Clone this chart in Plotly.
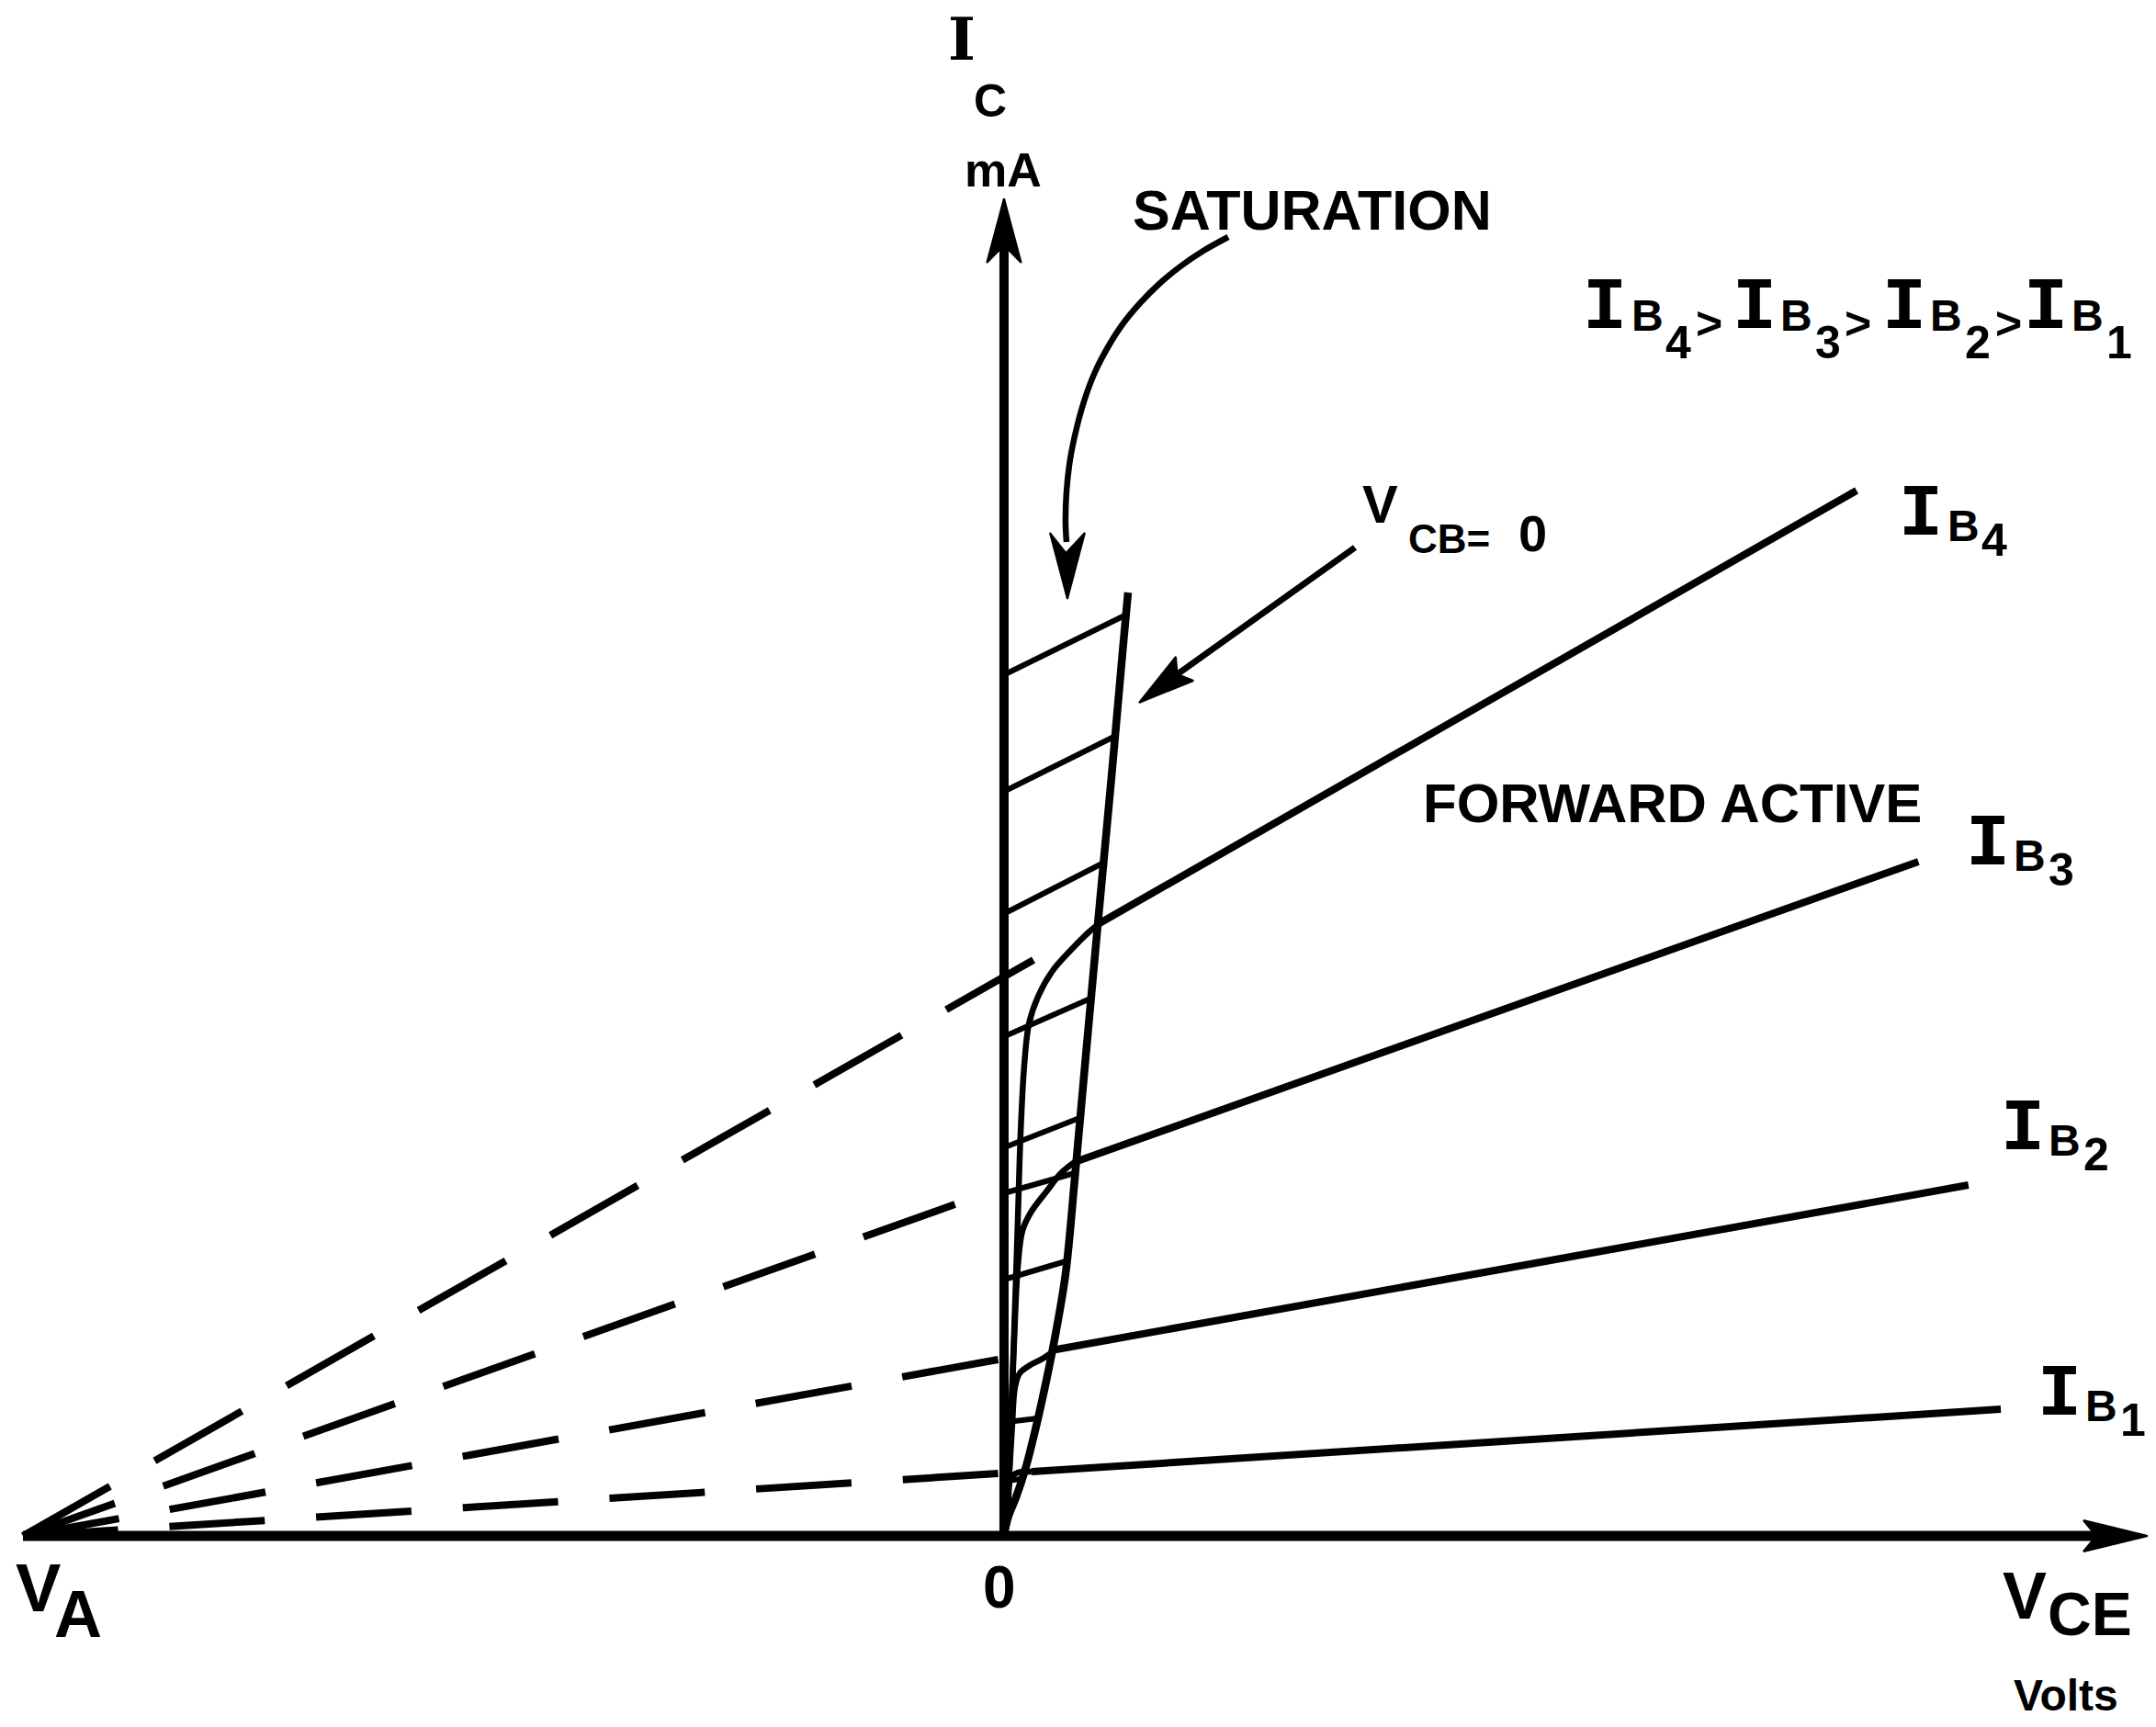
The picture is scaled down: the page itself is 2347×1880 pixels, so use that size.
import math
import plotly.graph_objects as go

FIG_W, FIG_H = 2347, 1880
X_RANGE = [-102.34, 117.42]   # V_CE (volts)
Y_RANGE = [-2.08, 16.72]      # I_C (mA)
PX_PER_V = FIG_W / (X_RANGE[1] - X_RANGE[0])
PX_PER_MA = FIG_H / (Y_RANGE[1] - Y_RANGE[0])

V_A = -100.0  # Early voltage, where all extrapolated lines meet

# ---- base-current curves, largest first ----
ib_index = ["4", "3", "2", "1"]
active_end_v = [86.9, 93.2, 98.3, 101.6]
active_end_i = [11.38, 7.34, 3.82, 1.38]
dash_start_v = [3.0, -5.0, -0.6, -0.6]
dash_start_i = [6.27, 3.61, 1.92, 0.68]

knee_v = [
    [0.0, 0.28, 0.66, 1.03, 1.40, 1.69, 2.06, 2.53, 3.46, 4.87, 6.74, 8.61, 9.74],
    [0.0, 0.19, 0.66, 1.03, 1.40, 1.87, 2.72, 4.40, 5.81, 7.21],
    [0.0, 0.19, 0.56, 0.84, 1.12, 1.59, 2.53, 3.93, 5.34],
    [0.0, 0.19, 0.47, 0.75, 1.40, 2.81],
]
knee_i = [
    [0.0, 0.12, 1.12, 2.22, 3.42, 4.39, 5.12, 5.57, 5.87, 6.14, 6.37, 6.57, 6.67],
    [0.0, 0.12, 1.12, 2.12, 2.92, 3.32, 3.52, 3.76, 3.95, 4.07],
    [0.0, 0.17, 0.72, 1.22, 1.62, 1.77, 1.85, 1.93, 2.03],
    [0.0, 0.22, 0.52, 0.64, 0.69, 0.70],
]

# ---- V_CB = 0 boundary between saturation and forward active ----
vcb0_v = [0.0, 0.47, 1.22, 2.15, 3.18, 4.31, 5.24, 6.27, 7.21, 8.33, 9.55, 10.96, 12.08, 12.64]
vcb0_i = [0.02, 0.22, 0.42, 0.72, 1.15, 1.69, 2.19, 2.85, 3.89, 5.22, 6.65, 8.27, 9.62, 10.27]

# ---- hatching of the saturation region ----
hatch_v0 = [0.3, 0.3, 0.3, 0.3, 0.3, 0.3, 0.3, 0.3, 0.3]
hatch_i0 = [9.39, 8.12, 6.79, 5.45, 4.24, 3.74, 2.80, 1.24, 0.60]
hatch_v1 = [12.3, 11.2, 10.0, 8.8, 7.7, 7.2, 6.3, 3.4, 1.7]
hatch_i1 = [10.02, 8.70, 7.32, 5.85, 4.55, 3.95, 2.99, 1.28, 0.62]

# ---- pointer arrows ----
sat_arrow_v = [22.85, 20.32, 17.98, 15.82, 13.86, 12.08, 10.58, 9.27, 8.24, 7.40,
               6.74, 6.37, 6.27, 6.37]
sat_arrow_i = [14.14, 13.99, 13.82, 13.63, 13.42, 13.19, 12.94, 12.67, 12.38, 12.06,
               11.72, 11.37, 11.02, 10.82]
sat_head_v = [6.46, 4.68, 6.32, 8.24, 6.46]
sat_head_i = [10.20, 10.92, 10.70, 10.92, 10.20]

vcb_arrow_v = [35.77, 17.66]
vcb_arrow_i = [10.76, 9.38]
vcb_head_v = [13.76, 19.31, 17.66, 17.51, 13.76]
vcb_head_i = [9.07, 9.31, 9.38, 9.57, 9.07]

# ---- axes ----
x_axis_v = [V_A, 111.33]
x_axis_i = [0.0, 0.0]
x_head_v = [116.57, 110.02, 111.33, 110.02, 116.57]
x_head_i = [0.0, 0.17, 0.0, -0.17, 0.0]
y_axis_v = [0.0, 0.0]
y_axis_i = [0.0, 14.05]
y_head_v = [0.0, -1.75, 0.0, 1.75, 0.0]
y_head_i = [14.56, 13.86, 14.05, 13.86, 14.56]

INK = "#000000"
fig = go.Figure()


def add_line(xs, ys, width, shape="linear", dash="solid"):
    fig.add_trace(go.Scatter(
        x=xs, y=ys, mode="lines", hoverinfo="skip",
        line=dict(color=INK, width=width, shape=shape, dash=dash),
    ))


def add_solid_shape(xs, ys):
    fig.add_trace(go.Scatter(
        x=xs, y=ys, mode="lines", fill="toself", fillcolor=INK, hoverinfo="skip",
        line=dict(color=INK, width=2),
    ))


def dash_pattern(v0, i0, v1, i1, dash_px=100.0, gap_px=56.0):
    # fit a whole number of dashes so the line starts and ends on a dash
    length = math.hypot((v1 - v0) * PX_PER_V, (i1 - i0) * PX_PER_MA)
    n = max(1, round((length + gap_px) / (dash_px + gap_px)))
    d = (length - (n - 1) * gap_px) / n
    return f"{d:.1f}px,{gap_px:.1f}px"


# axes
add_line(x_axis_v, x_axis_i, 11)
add_solid_shape(x_head_v, x_head_i)
add_line(y_axis_v, y_axis_i, 10)
add_solid_shape(y_head_v, y_head_i)

# characteristic curves
for k in range(len(ib_index)):
    add_line(knee_v[k], knee_i[k], 6.5, shape="spline")
    add_line([knee_v[k][-1], active_end_v[k]], [knee_i[k][-1], active_end_i[k]], 8)
    pat = dash_pattern(dash_start_v[k], dash_start_i[k], V_A, 0.0)
    add_line([dash_start_v[k], V_A], [dash_start_i[k], 0.0], 8, dash=pat)

# saturation boundary and hatching
add_line(vcb0_v, vcb0_i, 8.5, shape="spline")
for a, b, c, d in zip(hatch_v0, hatch_i0, hatch_v1, hatch_i1):
    add_line([a, c], [b, d], 6)

# pointer arrows
add_line(sat_arrow_v, sat_arrow_i, 6.5, shape="spline")
add_solid_shape(sat_head_v, sat_head_i)
add_line(vcb_arrow_v, vcb_arrow_i, 7)
add_solid_shape(vcb_head_v, vcb_head_i)

SANS = "Liberation Sans"
SERIF = "DejaVu Serif"
MONO = "Liberation Mono"
annotations = []


def text(x, y, s, size, family=SANS, xshift=0, yshift=0, bold=True):
    annotations.append(dict(
        x=x, y=y, xref="x", yref="y", text=f"<b>{s}</b>" if bold else s,
        showarrow=False, xanchor="center", yanchor="middle",
        xshift=xshift, yshift=yshift,
        font=dict(family=family, size=size, color=INK),
    ))


def ib_label(x, y, n, dy_b=8, dy_n=30):
    text(x, y, "I", 80, family=MONO)
    text(x, y, "B", 48, xshift=46, yshift=-dy_b)
    text(x, y, n, 50, xshift=80, yshift=-dy_n)


# I_C axis title
text(-4.31, 16.30, "I", 64, family=SERIF)
text(-1.40, 15.62, "C", 50)
text(-0.09, 14.87, "mA", 52)

# region labels
text(31.37, 14.43, "SATURATION", 61)
text(68.16, 7.98, "FORWARD ACTIVE", 60)

# V_CB = 0 label
text(38.39, 11.24, "V", 58)
text(45.40, 10.86, "CB=", 44)
text(53.85, 10.92, "0", 56)

# ordering of base currents
header_v = [61.24, 76.50, 91.76, 106.18]
for v, n in zip(header_v, ib_index):
    ib_label(v, 13.37, n, dy_b=8, dy_n=38)
for v in [71.91, 87.0, 102.4]:
    text(v, 13.20, "&gt;", 50)

# curve labels
label_v = [93.45, 100.28, 103.84, 107.58]
label_i = [11.12, 7.53, 4.43, 1.54]
for v, i, n in zip(label_v, label_i, ib_index):
    ib_label(v, i, n, dy_b=12, dy_n=28)

# axis annotations
text(-0.47, -0.56, "0", 64)
text(-98.41, -0.56, "V", 74)
text(-94.38, -0.85, "A", 72)
text(104.03, -0.65, "V", 72)
text(110.67, -0.85, "CE", 66)
text(108.24, -1.73, "Volts", 48)

fig.update_layout(
    width=FIG_W, height=FIG_H,
    margin=dict(l=0, r=0, t=0, b=0, pad=0),
    paper_bgcolor="white", plot_bgcolor="white",
    showlegend=False,
    xaxis=dict(range=X_RANGE, visible=False, fixedrange=True),
    yaxis=dict(range=Y_RANGE, visible=False, fixedrange=True),
    annotations=annotations,
)

fig.write_html("out.html")
